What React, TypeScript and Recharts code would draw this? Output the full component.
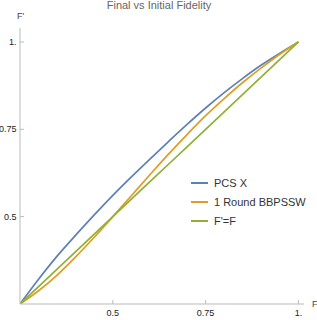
import React from 'react';
import { LineChart, Line, XAxis, YAxis, Legend } from 'recharts';

// F values and the curves
const fidelity = [0.25, 0.3, 0.35, 0.4, 0.45, 0.5, 0.55, 0.6, 0.65, 0.7, 0.75, 0.8, 0.85, 0.9, 0.95, 1];
const pcsX = [0.25, 0.321, 0.387, 0.447, 0.505, 0.561, 0.614, 0.665, 0.715, 0.764, 0.811, 0.855, 0.896, 0.934, 0.968, 1];
const bbpssw = [0.25, 0.288, 0.333, 0.385, 0.441, 0.5, 0.56, 0.62, 0.679, 0.735, 0.789, 0.838, 0.884, 0.926, 0.965, 1];
const identity = [0.25, 0.3, 0.35, 0.4, 0.45, 0.5, 0.55, 0.6, 0.65, 0.7, 0.75, 0.8, 0.85, 0.9, 0.95, 1];

const xTicks = [0.5, 0.75, 1];
const yTicks = [0.5, 0.75, 1];

const seriesNames = ['PCS X', '1 Round BBPSSW', "F'=F"];
const seriesColors = ['#5e81b5', '#e19c24', '#8fb032'];

const data = fidelity.map((f, i) => ({
  f,
  pcs: pcsX[i],
  bb: bbpssw[i],
  id: identity[i],
}));

const AXIS = '#bbbbbb';
const FONT = '"Liberation Sans", Arial, sans-serif';

const fmt = (v: number) => (v === 1 ? '1.' : String(v));

function XTick({ x, y, payload }: any) {
  return (
    <g>
      <line x1={x} x2={x} y1={y} y2={y - 4} stroke={AXIS} />
      <text x={x} y={y + 12} textAnchor="middle" fontSize={9} fill="#222" fontFamily={FONT}>
        {fmt(payload.value)}
      </text>
    </g>
  );
}

function YTick({ x, y, payload }: any) {
  return (
    <g>
      <line x1={x} x2={x + 4} y1={y} y2={y} stroke={AXIS} />
      <text x={x - 3.5} y={y + 3} textAnchor="end" fontSize={9} fill="#222" fontFamily={FONT}>
        {fmt(payload.value)}
      </text>
    </g>
  );
}

function LegendBox() {
  return (
    <div style={{ fontFamily: FONT, fontSize: 11, color: '#333' }}>
      {seriesNames.map((name, i) => (
        <div key={name} style={{ display: 'flex', alignItems: 'center', height: 19 }}>
          <span style={{ display: 'inline-block', width: 17, height: 2, background: seriesColors[i], marginRight: 6 }} />
          <span>{name}</span>
        </div>
      ))}
    </div>
  );
}

export default function App() {
  return (
    <div style={{ position: 'absolute', left: 0, top: 0, width: 317, height: 320, background: '#fff', fontFamily: FONT }}>
      <div
        style={{
          position: 'absolute',
          top: -1,
          left: 20,
          width: 278,
          textAlign: 'center',
          fontSize: 11,
          lineHeight: '13px',
          color: '#666',
        }}
      >
        Final vs Initial Fidelity
      </div>
      <div style={{ position: 'absolute', left: 17, top: 10, fontSize: 9, color: '#444', lineHeight: '12px' }}>F'</div>
      <div style={{ position: 'absolute', left: 312, top: 298, fontSize: 9, color: '#444', lineHeight: '12px' }}>F</div>
      <LineChart width={317} height={320} data={data} margin={{ top: 28, right: 13, bottom: 0, left: 0 }}>
        <XAxis
          type="number"
          dataKey="f"
          domain={[0.25, 1.015]}
          ticks={xTicks}
          allowDataOverflow
          height={16}
          tickSize={0}
          tickMargin={0}
          tickLine={false}
          axisLine={{ stroke: AXIS }}
          tick={<XTick />}
        />
        <YAxis
          type="number"
          domain={[0.25, 1.04]}
          ticks={yTicks}
          allowDataOverflow
          width={20}
          tickSize={0}
          tickMargin={0}
          tickLine={false}
          axisLine={{ stroke: AXIS }}
          tick={<YTick />}
        />
        <Legend
          layout="vertical"
          align="center"
          verticalAlign="middle"
          content={<LegendBox />}
          wrapperStyle={{ left: 191, top: 173, width: 120 }}
        />
        <Line type="monotone" dataKey="pcs" stroke={seriesColors[0]} strokeWidth={1.7} dot={false} isAnimationActive={false} />
        <Line type="monotone" dataKey="bb" stroke={seriesColors[1]} strokeWidth={1.7} dot={false} isAnimationActive={false} />
        <Line type="linear" dataKey="id" stroke={seriesColors[2]} strokeWidth={1.7} dot={false} isAnimationActive={false} />
      </LineChart>
    </div>
  );
}
